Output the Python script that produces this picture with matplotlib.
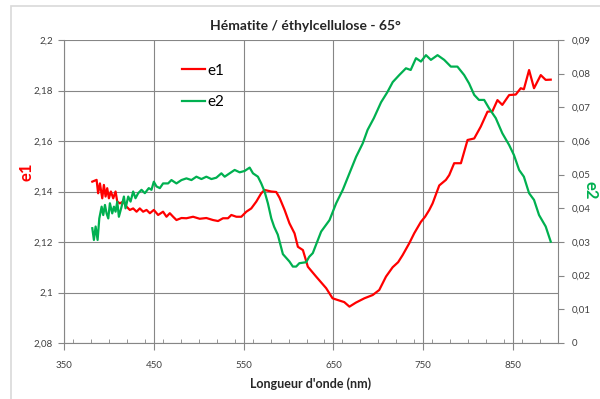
import matplotlib
matplotlib.use('Agg')
import matplotlib.pyplot as plt
from matplotlib.patches import Rectangle
from matplotlib.ticker import MultipleLocator

plt.rcParams['font.family'] = ['Lato', 'DejaVu Sans']

# e1 - longueur d'onde (nm) / valeur
wl1 = [381.5, 386.3, 388.0, 390.0, 392.6, 394.4, 396.3, 398.1, 400.0, 402.2,
       404.8, 407.4, 409.3, 412.2, 415.9, 419.6, 423.3, 427.0, 430.8, 434.4,
       438.1, 441.9, 445.6, 450.0, 454.8, 460.3, 464.1, 467.8, 471.5, 475.2,
       480.8, 486.3, 493.7, 501.1, 508.5, 515.9, 521.5, 527.0, 532.6, 536.3,
       541.9, 547.4, 553.0, 558.5, 564.1, 569.6, 573.3, 580.7, 586.3, 590.0,
       595.6, 601.0, 606.7, 610.4, 616.0, 621.5, 630.7, 641.9, 649.0, 656.7,
       662.0, 667.8, 675.0, 684.4, 693.7, 701.0, 708.5, 715.9, 722.0, 727.0,
       734.4, 740.0, 747.4, 752.0, 756.7, 760.4, 767.8, 775.2, 778.9, 784.4,
       791.9, 799.3, 806.7, 814.0, 821.5, 827.0, 832.6, 838.0, 845.6, 853.0,
       858.5, 862.0, 867.8, 873.3, 880.8, 886.3, 891.9]
e1 = [2.1439, 2.1446, 2.1393, 2.1432, 2.1373, 2.1426, 2.1380, 2.1413, 2.1373, 2.1400,
      2.1373, 2.1400, 2.1360, 2.1353, 2.1360, 2.1340, 2.1327, 2.1333, 2.1320, 2.1333,
      2.1320, 2.1327, 2.1314, 2.1327, 2.1307, 2.1320, 2.1300, 2.1314, 2.1300, 2.1287,
      2.1295, 2.1294, 2.1300, 2.1292, 2.1295, 2.1287, 2.1283, 2.1294, 2.1294, 2.1307,
      2.1300, 2.1300, 2.1320, 2.1333, 2.1360, 2.1393, 2.1406, 2.1400, 2.1398, 2.1375,
      2.1327, 2.1274, 2.1234, 2.1181, 2.1168, 2.1102, 2.1063, 2.1017, 2.0977, 2.0968,
      2.0962, 2.0944, 2.0960, 2.0977, 2.0990, 2.1010, 2.1063, 2.1100, 2.1120, 2.1148,
      2.1195, 2.1235, 2.1280, 2.1300, 2.1327, 2.1353, 2.1424, 2.1446, 2.1465, 2.1512,
      2.1512, 2.1604, 2.1610, 2.1657, 2.1716, 2.1718, 2.1762, 2.1743, 2.1782, 2.1784,
      2.1809, 2.1805, 2.1881, 2.1809, 2.1861, 2.1842, 2.1843]

# e2
wl2 = [381.5, 383.3, 385.2, 387.4, 389.3, 391.9, 393.7, 395.6, 397.4, 399.3,
       401.1, 403.7, 405.6, 407.4, 409.3, 411.1, 414.1, 416.7, 418.5, 421.5,
       424.1, 427.0, 429.6, 432.6, 436.3, 440.0, 444.4, 447.4, 450.0, 453.0,
       456.7, 460.3, 465.9, 469.6, 475.2, 480.8, 486.3, 491.9, 497.4, 503.0,
       508.5, 514.1, 519.6, 525.2, 528.9, 534.4, 540.0, 545.6, 551.1, 556.7,
       560.4, 565.9, 569.6, 573.3, 577.0, 580.8, 584.0, 588.0, 593.7, 601.0,
       604.8, 608.5, 612.0, 619.6, 623.0, 627.0, 636.3, 645.6, 653.0, 660.4,
       667.8, 675.2, 682.6, 688.0, 695.0, 703.0, 710.0, 716.0, 723.3, 730.7,
       736.0, 741.9, 747.4, 753.0, 758.5, 765.9, 773.3, 780.7, 788.0, 795.5,
       801.0, 806.7, 812.0, 817.8, 823.3, 830.7, 838.0, 845.6, 851.0, 856.7,
       862.0, 867.8, 873.3, 878.9, 886.3, 891.9]
e2 = [0.0341, 0.0306, 0.0346, 0.0306, 0.0370, 0.0405, 0.0380, 0.0410, 0.0385, 0.0370,
      0.0415, 0.0385, 0.0405, 0.0390, 0.0420, 0.0375, 0.0405, 0.0435, 0.0400, 0.0435,
      0.0420, 0.0450, 0.0430, 0.0445, 0.0455, 0.0445, 0.0460, 0.0455, 0.0479, 0.0465,
      0.0460, 0.0474, 0.0474, 0.0484, 0.0474, 0.0484, 0.0489, 0.0484, 0.0494, 0.0487,
      0.0494, 0.0487, 0.0491, 0.0504, 0.0494, 0.0504, 0.0514, 0.0507, 0.0511, 0.0521,
      0.0504, 0.0494, 0.0474, 0.0450, 0.0415, 0.0370, 0.0345, 0.0322, 0.0264, 0.0242,
      0.0227, 0.0227, 0.0237, 0.0240, 0.0256, 0.0267, 0.0331, 0.0365, 0.0415, 0.0455,
      0.0504, 0.0553, 0.0593, 0.0633, 0.0668, 0.0715, 0.0745, 0.0775, 0.0796, 0.0816,
      0.0811, 0.0846, 0.0836, 0.0855, 0.0841, 0.0855, 0.0841, 0.0821, 0.0821, 0.0796,
      0.0771, 0.0737, 0.0722, 0.0722, 0.0697, 0.0668, 0.0623, 0.0588, 0.0558, 0.0514,
      0.0494, 0.0445, 0.0425, 0.0380, 0.0346, 0.0301]

xticks = [350, 450, 550, 650, 750, 850]
yticks1 = [2.08, 2.10, 2.12, 2.14, 2.16, 2.18, 2.20]
ylabels1 = ['2,08', '2,1', '2,12', '2,14', '2,16', '2,18', '2,2']
yticks2 = [0, 0.01, 0.02, 0.03, 0.04, 0.05, 0.06, 0.07, 0.08, 0.09]
ylabels2 = ['0', '0,01', '0,02', '0,03', '0,04', '0,05', '0,06', '0,07', '0,08', '0,09']

W, H = 600, 399
fig = plt.figure(figsize=(6, 3.99), dpi=100)

# cadre du graphique
fig.patches.append(Rectangle((11 / W, -0.05), 1.1, 1 - 6 / H + 0.05, transform=fig.transFigure,
                             fill=False, edgecolor='#d9d9d9', linewidth=1.2))

ax = fig.add_axes([64 / W, 1 - 343 / H, (558 - 64) / W, (343 - 40) / H])
ax2 = ax.twinx()

gray = '#868686'
txt = '#404040'

ax.set_xlim(350, 900)
ax.set_ylim(2.08, 2.2)
ax2.set_ylim(0, 0.09)

ax.set_xticks(xticks)
ax.set_xticklabels([str(t) for t in xticks], fontsize=7, color=txt)
ax.xaxis.set_minor_locator(MultipleLocator(20))
ax.set_yticks(yticks1)
ax.set_yticklabels(ylabels1, fontsize=7, color=txt)
ax2.set_yticks(yticks2)
ax2.set_yticklabels(ylabels2, fontsize=7, color=txt)

ax.grid(True, which='major', color=gray, linewidth=0.8)
ax.set_axisbelow(True)
for a in (ax, ax2):
    for s in a.spines.values():
        s.set_color(gray)
    a.spines['top'].set_visible(False)
ax.spines['right'].set_visible(False)
ax2.spines['left'].set_visible(False)
ax2.spines['bottom'].set_visible(False)

ax.tick_params(axis='x', which='major', direction='out', length=5, color=gray, pad=8)
ax.tick_params(axis='x', which='minor', direction='in', length=3, color=gray)
ax.tick_params(axis='y', direction='out', length=4, color=gray, pad=4)
ax2.tick_params(axis='y', direction='out', length=4, color=gray, pad=6)

l1, = ax.plot(wl1, e1, color='#ff0000', linewidth=1.6, label='e1')
l2, = ax2.plot(wl2, e2, color='#00b050', linewidth=1.6, label='e2')

ax.legend(handles=[l1, l2], loc='upper left', bbox_to_anchor=(174 / W, 1 - 56 / H),
          bbox_transform=fig.transFigure, frameon=False, fontsize=11,
          handlelength=1.5, handletextpad=0.2, labelspacing=1.15, borderpad=0)

fig.text(305 / W, 1 - 26 / H, 'Hématite / éthylcellulose - 65°', ha='center', va='center',
         fontsize=10, fontweight='bold', color='#262626')
fig.text(311 / W, 1 - 384 / H, "Longueur d'onde (nm)", ha='center', va='center',
         fontsize=9, fontweight='bold', color='#262626')
fig.text(27 / W, 1 - 172 / H, 'e1', ha='center', va='center', rotation=90,
         fontsize=12, fontweight='bold', color='#ff0000')
fig.text(591 / W, 1 - 190 / H, 'e2', ha='center', va='center', rotation=270,
         fontsize=12, fontweight='bold', color='#00b050')

fig.savefig('out.png', dpi=100)
